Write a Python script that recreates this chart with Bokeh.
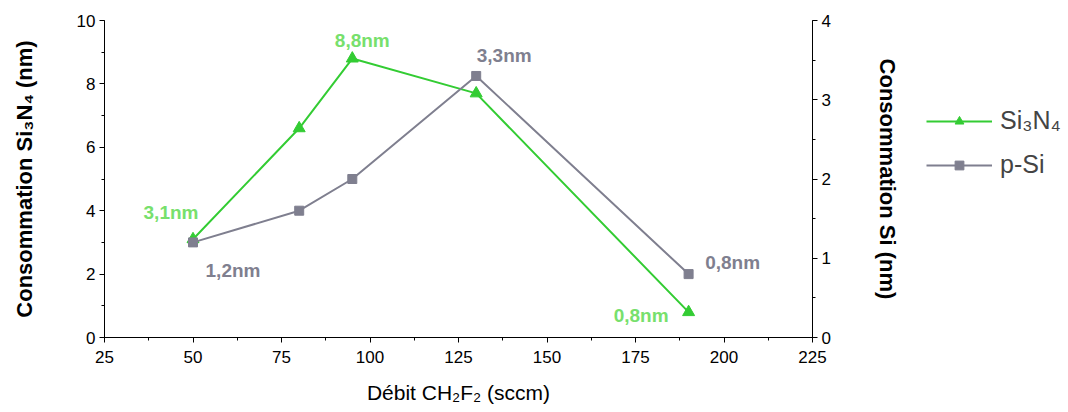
from bokeh.plotting import figure
from bokeh.layouts import row
from bokeh.models import Range1d, LinearAxis, Legend, LegendItem, ColumnDataSource, SingleIntervalTicker
from bokeh.core.properties import value
from bokeh.embed import file_html
from bokeh.resources import INLINE

# Data
debit = [50, 80, 95, 130, 190]
si3n4 = [3.1, 6.6, 8.8, 7.7, 0.8]
psi = [1.2, 1.6, 2.0, 3.3, 0.8]

si3n4_lbl_x = [50, 95, 190]
si3n4_lbl_y = [3.1, 8.8, 0.8]
si3n4_lbl = ["3,1nm", "8,8nm", "0,8nm"]
psi_lbl_x = [50, 130, 190]
psi_lbl_y = [1.2, 3.3, 0.8]
psi_lbl = ["1,2nm", "3,3nm", "0,8nm"]

series_names = ["Si₃N₄", "p-Si"]

FONT = "Liberation Sans"
GREEN = "#33CC33"
GREEN_LBL = "#77E06C"
GREY = "#7F7F8F"
H = 406

p = figure(width=910, height=H, output_backend="svg", toolbar_location=None,
           x_range=Range1d(25, 225), y_range=Range1d(0, 10),
           min_border_left=104, min_border_right=98, min_border_top=20, min_border_bottom=59)
p.extra_y_ranges = {"si": Range1d(0, 4)}
p.outline_line_color = None
p.xgrid.visible = False
p.ygrid.visible = False

p.xaxis.ticker = SingleIntervalTicker(interval=25, num_minor_ticks=2)
p.yaxis.ticker = SingleIntervalTicker(interval=2, num_minor_ticks=2)
p.xaxis.axis_label = "Débit CH₂F₂ (sccm)"
p.yaxis.axis_label = "Consommation Si₃N₄ (nm)"

right = LinearAxis(y_range_name="si", axis_label="Consommation Si (nm)",
                   ticker=SingleIntervalTicker(interval=1, num_minor_ticks=2))
p.add_layout(right, "right")

for ax in [p.xaxis[0], p.yaxis[0], right]:
    ax.axis_line_color = "black"
    ax.major_tick_line_color = "black"
    ax.minor_tick_line_color = "black"
    ax.major_tick_out = 5
    ax.major_tick_in = 0
    ax.minor_tick_out = 3
    ax.minor_tick_in = 0
    ax.major_label_text_font = FONT
    ax.major_label_text_font_size = "17px"
    ax.major_label_text_color = "black"
    ax.axis_label_text_font = FONT
    ax.axis_label_text_font_size = "21px"
    ax.axis_label_text_color = "black"
    ax.axis_label_text_font_style = "bold"
    ax.major_label_standoff = 4
p.xaxis.axis_label_text_font_style = "normal"
p.xaxis.axis_label_text_font_size = "21px"
p.xaxis.major_label_standoff = 8
p.xaxis.axis_label_standoff = 15
p.yaxis.axis_label_text_font_size = "22px"
p.yaxis.axis_label_standoff = 37
right.axis_label_standoff = 41

p.line(debit, si3n4, line_color=GREEN, line_width=2)
p.scatter(debit, si3n4, marker="triangle", size=12, fill_color=GREEN, line_color=GREEN)
p.line(debit, psi, line_color=GREY, line_width=2, y_range_name="si")
p.scatter(debit, psi, marker="square", size=9, fill_color=GREY, line_color=GREY, y_range_name="si")

src1 = ColumnDataSource(dict(x=si3n4_lbl_x, y=si3n4_lbl_y, t=si3n4_lbl,
                             xo=[-22, 10, -20], yo=[-27, -18, 3], al=["center", "center", "right"]))
p.text("x", "y", text="t", source=src1, x_offset="xo", y_offset="yo", text_align="al",
       text_baseline="middle", text_font=value(FONT), text_font_style="bold",
       text_font_size="19px", text_color=GREEN_LBL)
src2 = ColumnDataSource(dict(x=psi_lbl_x, y=psi_lbl_y, t=psi_lbl,
                             xo=[40, 28, 44], yo=[28, -20, -12]))
p.text("x", "y", text="t", source=src2, x_offset="xo", y_offset="yo", text_align="center",
       text_baseline="middle", y_range_name="si", text_font=value(FONT), text_font_style="bold",
       text_font_size="19px", text_color=GREY)

# Legend panel (legend-only renderers hold no visible data)
nan = [float("nan")]
lg = figure(width=158, height=H, output_backend="svg", toolbar_location=None,
            x_axis_location=None, y_axis_location=None,
            x_range=Range1d(0, 1), y_range=Range1d(0, 1),
            min_border_left=0, min_border_right=0, min_border_top=0, min_border_bottom=0)
lg.outline_line_color = None
lg.xgrid.visible = False
lg.ygrid.visible = False
a1 = lg.line(nan, nan, line_color=GREEN, line_width=2)
b1 = lg.scatter(nan, nan, marker="triangle", size=12, fill_color=GREEN, line_color=GREEN)
a2 = lg.line(nan, nan, line_color=GREY, line_width=2)
b2 = lg.scatter(nan, nan, marker="square", size=9, fill_color=GREY, line_color=GREY)

legend = Legend(items=[LegendItem(label=series_names[0], renderers=[a1, b1]),
                       LegendItem(label=series_names[1], renderers=[a2, b2])],
                location=(16, 158), glyph_width=66, glyph_height=22, label_height=22,
                spacing=15, padding=0, margin=0, label_standoff=8,
                label_text_font=FONT, label_text_font_size="25px",
                border_line_color=None, background_fill_alpha=0)
lg.add_layout(legend, "center")

layout = row(p, lg, spacing=0)
open("out.html", "w").write(file_html(layout, INLINE))
